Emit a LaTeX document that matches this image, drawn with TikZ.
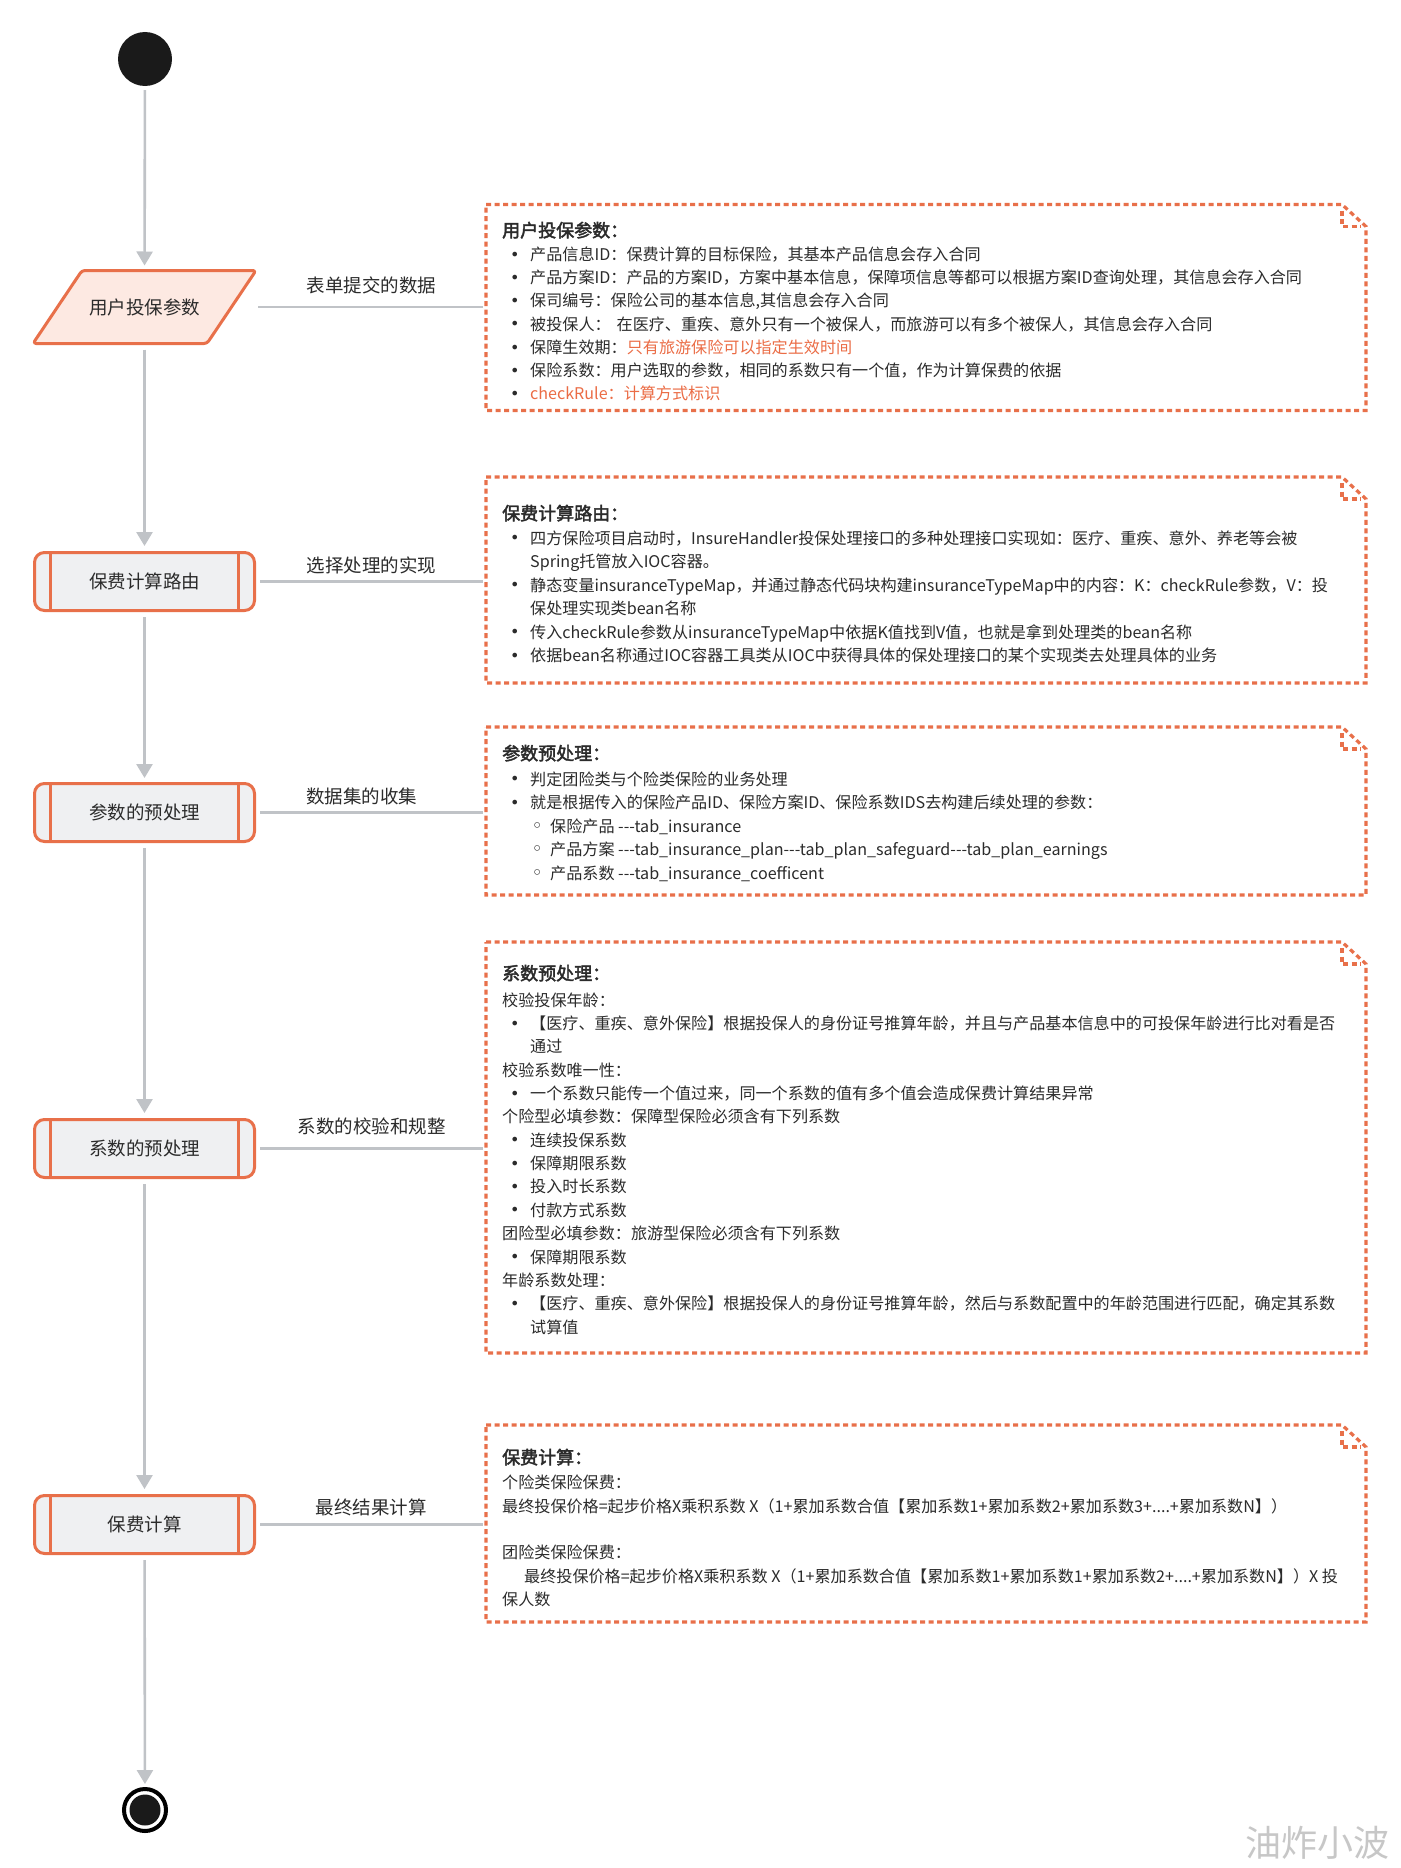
\documentclass[tikz,border=0pt]{standalone}
\usepackage{fontspec}
\setmainfont{Noto Sans CJK SC}[Ligatures=TeXOff, BoldFont=*, BoldFeatures={FakeBold=2.4}]
\newfontfamily\symfont{DejaVu Sans}
\usetikzlibrary{arrows.meta,calc,backgrounds}
\definecolor{org}{HTML}{E8704A}
\definecolor{pinkfill}{HTML}{FDE9E2}
\definecolor{grayfill}{HTML}{EFF0F2}
\definecolor{conn}{HTML}{C0C3C7}
\definecolor{txtc}{HTML}{2B2B2B}
\definecolor{redtxt}{HTML}{EB6C45}
\definecolor{blk}{HTML}{1A1A1A}
\newcommand\bul{\makebox[21pt][l]{\hspace{1pt}\raisebox{0.3pt}{\symfont\fontsize{16}{16}\selectfont •}}}
\newcommand\subb{\makebox[19pt][l]{\hspace{0.5pt}\raisebox{0pt}{\symfont\fontsize{19}{19}\selectfont ◦}}}
\newcommand\red[1]{\textcolor{redtxt}{#1}}
\begin{document}
\begin{tikzpicture}[x=1pt,y=-1pt,
  body/.style={inner sep=0pt, anchor=base west, text=txtc, font=\fontsize{16.1}{20}\selectfont},
  ttl/.style={body, font=\fontsize{18}{20}\selectfont\bfseries},
  lab/.style={inner sep=0pt, text=txtc, font=\fontsize{18.5}{20}\selectfont},
  pnode/.style={rectangle, minimum width=223pt, minimum height=73pt, inner sep=0pt, outer sep=0pt, text=txtc, font=\fontsize{18.5}{20}\selectfont},
  proc/.style={rectangle, rounded corners=10pt, draw=org, line width=3pt, fill=grayfill,
    minimum width=220pt, minimum height=58pt, inner sep=0pt, text=txtc, font=\fontsize{18.5}{20}\selectfont,
    path picture={\draw[org, line width=3pt]
      ([xshift=16pt]path picture bounding box.north west) -- ([xshift=16pt]path picture bounding box.south west)
      ([xshift=-16pt]path picture bounding box.north east) -- ([xshift=-16pt]path picture bounding box.south east);}},
  notebox/.style={rectangle, minimum width=880pt, inner sep=0pt, outer sep=0pt},
  dotb/.style={draw=org, line width=3.2pt, dash pattern=on 5pt off 3.5pt},
  arr/.style={draw=conn, line width=2.6pt, -{Triangle[width=16pt,length=14pt]}},
  cline/.style={draw=conn, line width=2.6pt}
]
\useasboundingbox (0,0) rectangle (1400,1868);
\begin{scope}[on background layer]
\fill[white] (0,0) rectangle (1400,1868);
\end{scope}

% start / end
\node[circle, fill=blk, minimum size=54pt, inner sep=0pt] (st) at (145,59) {};
\node[circle, draw=black, line width=4pt, fill=white, minimum size=42pt, inner sep=0pt] (fin) at (145,1810) {};
\node[circle, fill=blk, minimum size=31pt, inner sep=0pt] (finin) at (145,1810) {};

% left column
\node[pnode] (p1) at (144.5,307) {用户投保参数};
\begin{scope}[on background layer]
\draw[org, line width=3pt, fill=pinkfill, rounded corners=3pt, line join=round]
  ([xshift=49pt]p1.north west) -- (p1.north east) -- ([xshift=-49pt]p1.south east) -- (p1.south west) -- cycle;
\end{scope}
\node[proc] (r2) at (144.5,581.5) {保费计算路由};
\node[proc] (r3) at (144.5,812.5) {参数的预处理};
\node[proc] (r4) at (144.5,1148.5) {系数的预处理};
\node[proc] (r5) at (144.5,1524.5) {保费计算};

% vertical arrows
\draw[arr, shorten <=4pt, shorten >=5pt] (st) -- (p1);
\draw[arr, shorten <=6pt, shorten >=5pt] (p1) -- (r2);
\draw[arr, shorten <=5pt, shorten >=4pt] (r2) -- (r3);
\draw[arr, shorten <=5pt, shorten >=5pt] (r3) -- (r4);
\draw[arr, shorten <=5pt, shorten >=5pt] (r4) -- (r5);
\draw[arr, shorten <=5pt, shorten >=3pt] (r5) -- (fin);

% note boxes
\node[notebox, minimum height=206pt] (n1) at (926,307.5) {};
\node[notebox, minimum height=206pt] (n2) at (926,580) {};
\node[notebox, minimum height=168pt] (n3) at (926,811) {};
\node[notebox, minimum height=411pt] (n4) at (926,1147.5) {};
\node[notebox, minimum height=197pt] (n5) at (926,1523.5) {};
\foreach \n in {n1,n2,n3,n4,n5}{
  \draw[dotb] (\n.north west) -- ([xshift=-24pt]\n.north east) -- ([yshift=-22pt]\n.north east) -- (\n.south east) -- (\n.south west) -- cycle;
  \draw[dotb] ([xshift=-24pt,yshift=-6pt]\n.north east) -- ([xshift=-24pt,yshift=-22pt]\n.north east) -- ([xshift=-5pt,yshift=-22pt]\n.north east);
}

% horizontal connectors and labels
\draw[cline, shorten <=2pt, shorten >=3pt] (p1.east) -- (p1.east -| n1.west);
\draw[cline, shorten <=4pt, shorten >=3pt] (r2.east) -- (r2.east -| n2.west);
\draw[cline, shorten <=4pt, shorten >=3pt] (r3.east) -- (r3.east -| n3.west);
\draw[cline, shorten <=4pt, shorten >=3pt] (r4.east) -- (r4.east -| n4.west);
\draw[cline, shorten <=4pt, shorten >=3pt] (r5.east) -- (r5.east -| n5.west);
\node[lab] (lab1) at (371.5,285) {表单提交的数据};
\node[lab] (lab2) at (371.5,565) {选择处理的实现};
\node[lab] (lab3) at (361.5,796) {数据集的收集};
\node[lab] (lab4) at (371.5,1126) {系数的校验和规整};
\node[lab] (lab5) at (371,1507) {最终结果计算};

% note 1
\node[ttl] (t1) at (502,237) {用户投保参数：};
\node[body] (t1a) at (509,260.5) {\bul 产品信息ID：保费计算的目标保险，其基本产品信息会存入合同};
\node[body] (t1b) at (509,283.7) {\bul 产品方案ID：产品的方案ID，方案中基本信息，保障项信息等都可以根据方案ID查询处理，其信息会存入合同};
\node[body] (t1c) at (509,306.9) {\bul 保司编号：保险公司的基本信息,其信息会存入合同};
\node[body] (t1d) at (509,330.1) {\bul 被投保人：\hspace{6pt}在医疗、重疾、意外只有一个被保人，而旅游可以有多个被保人，其信息会存入合同};
\node[body] (t1e) at (509,353.3) {\bul 保障生效期：\red{只有旅游保险可以指定生效时间}};
\node[body] (t1f) at (509,376.5) {\bul 保险系数：用户选取的参数，相同的系数只有一个值，作为计算保费的依据};
\node[body] (t1g) at (509,399.7) {\bul \red{checkRule：计算方式标识}};

% note 2
\node[ttl] (t2) at (502,520) {保费计算路由：};
\node[body] (t2a) at (509,544) {\bul 四方保险项目启动时，InsureHandler投保处理接口的多种处理接口实现如：医疗、重疾、意外、养老等会被};
\node[body] (t2b) at (530,567.5) {Spring托管放入IOC容器。};
\node[body] (t2c) at (509,591) {\bul 静态变量insuranceTypeMap，并通过静态代码块构建insuranceTypeMap中的内容：K：checkRule参数，V：投};
\node[body] (t2d) at (530,614.5) {保处理实现类bean名称};
\node[body] (t2e) at (509,638) {\bul 传入checkRule参数从insuranceTypeMap中依据K值找到V值，也就是拿到处理类的bean名称};
\node[body] (t2f) at (509,661.5) {\bul 依据bean名称通过IOC容器工具类从IOC中获得具体的保处理接口的某个实现类去处理具体的业务};

% note 3
\node[ttl] (t3) at (502,760) {参数预处理：};
\node[body] (t3a) at (509,785) {\bul 判定团险类与个险类保险的业务处理};
\node[body] (t3b) at (509,808.5) {\bul 就是根据传入的保险产品ID、保险方案ID、保险系数IDS去构建后续处理的参数：};
\node[body] (t3c) at (531,832) {\subb 保险产品 ---tab\_insurance};
\node[body] (t3d) at (531,855.5) {\subb 产品方案 ---tab\_insurance\_plan---tab\_plan\_safeguard---tab\_plan\_earnings};
\node[body] (t3e) at (531,879) {\subb 产品系数 ---tab\_insurance\_coefficent};

% note 4
\node[ttl] (t4) at (502,980) {系数预处理：};
\node[body] (t4a) at (502,1006) {校验投保年龄：};
\node[body] (t4b) at (509,1029.4) {\bul 【医疗、重疾、意外保险】根据投保人的身份证号推算年龄，并且与产品基本信息中的可投保年龄进行比对看是否};
\node[body] (t4c) at (530,1052.7) {通过};
\node[body] (t4d) at (502,1076.1) {校验系数唯一性：};
\node[body] (t4e) at (509,1099.4) {\bul 一个系数只能传一个值过来，同一个系数的值有多个值会造成保费计算结果异常};
\node[body] (t4f) at (502,1122.8) {个险型必填参数：保障型保险必须含有下列系数};
\node[body] (t4g) at (509,1146.2) {\bul 连续投保系数};
\node[body] (t4h) at (509,1169.5) {\bul 保障期限系数};
\node[body] (t4i) at (509,1192.9) {\bul 投入时长系数};
\node[body] (t4j) at (509,1216.2) {\bul 付款方式系数};
\node[body] (t4k) at (502,1239.6) {团险型必填参数：旅游型保险必须含有下列系数};
\node[body] (t4l) at (509,1263) {\bul 保障期限系数};
\node[body] (t4m) at (502,1286.3) {年龄系数处理：};
\node[body] (t4n) at (509,1309.7) {\bul 【医疗、重疾、意外保险】根据投保人的身份证号推算年龄，然后与系数配置中的年龄范围进行匹配，确定其系数};
\node[body] (t4o) at (530,1333) {试算值};

% note 5
\node[ttl] (t5) at (502,1464) {保费计算：};
\node[body] (t5a) at (502,1488) {个险类保险保费：};
\node[body] (t5b) at (502,1512) {最终投保价格=起步价格X乘积系数 X（1+累加系数合值【累加系数1+累加系数2+累加系数3+....+累加系数N】）};
\node[body] (t5c) at (502,1558.5) {团险类保险保费：};
\node[body] (t5d) at (524,1582) {最终投保价格=起步价格X乘积系数 X（1+累加系数合值【累加系数1+累加系数1+累加系数2+....+累加系数N】）X 投};
\node[body] (t5e) at (502,1605) {保人数};

% watermark
\node[inner sep=0pt, text=black!22, font=\fontsize{36}{36}\selectfont] (wm) at (1317,1843) {油炸小波};
\end{tikzpicture}
\end{document}
